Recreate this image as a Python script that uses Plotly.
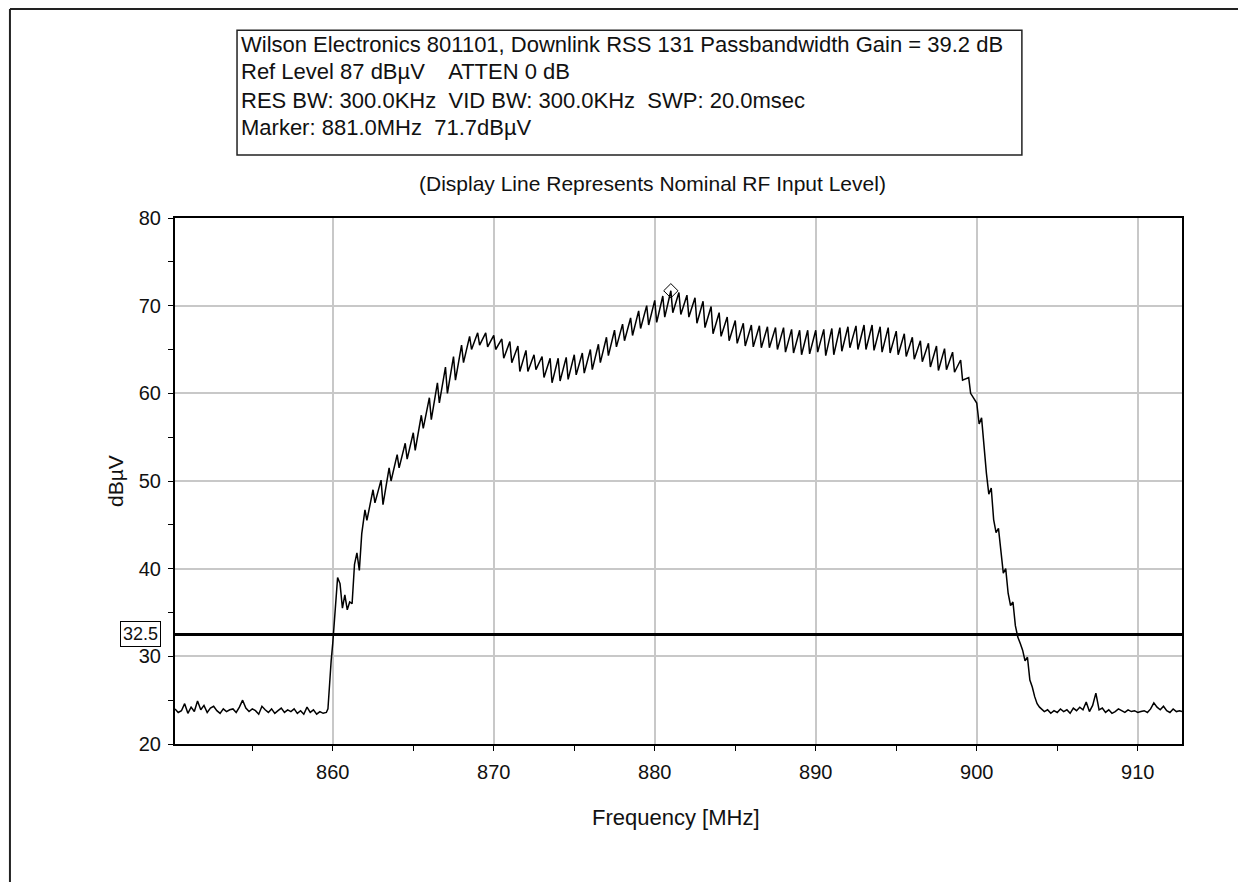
import plotly.graph_objects as go

# Spectrum analyser trace
# noise floor below the passband
floor_lo_freq = [850.2, 850.4, 850.6, 850.8, 851.0, 851.2, 851.4, 851.6, 851.8, 852.0,
                 852.2, 852.4, 852.6, 852.8, 853.0, 853.2, 853.4, 853.6, 853.8, 854.0,
                 854.2, 854.4, 854.6, 854.8, 855.0, 855.2, 855.4, 855.6, 855.8, 856.0,
                 856.2, 856.4, 856.6, 856.8, 857.0, 857.2, 857.4, 857.6, 857.8, 858.0,
                 858.2, 858.4, 858.6, 858.8, 859.0, 859.2, 859.4, 859.6]
floor_lo_level = [24.0, 23.6, 23.8, 24.6, 23.5, 24.2, 23.7, 24.9, 23.9, 24.4,
                  23.6, 24.1, 24.3, 23.8, 23.5, 24.0, 23.7, 23.9, 24.0, 23.6,
                  24.2, 25.0, 24.1, 23.7, 24.0, 23.8, 23.4, 24.3, 23.9, 23.6,
                  24.0, 23.5, 23.8, 24.1, 23.6, 23.9, 23.7, 24.0, 23.5, 23.8,
                  23.4, 24.2, 23.6, 23.9, 23.4, 23.7, 23.5, 23.6]

# lower band edge
rise_freq = [859.7, 859.8, 859.9, 860.0, 860.1, 860.2, 860.3, 860.45, 860.6, 860.75,
             860.9, 861.05, 861.2, 861.35, 861.5, 861.65, 861.8]
rise_level = [24.0, 27.5, 29.5, 31.5, 34.0, 37.0, 39.0, 38.3, 35.5, 37.0,
              35.3, 36.2, 36.0, 40.5, 41.8, 39.8, 44.0]

# passband with ripple (peak, dip) pairs
pass_freq = [862.0, 862.12, 862.5, 862.62, 863.0, 863.12, 863.5, 863.62,
             864.0, 864.12, 864.5, 864.62, 865.0, 865.12, 865.5, 865.62,
             866.0, 866.12, 866.5, 866.62, 867.0, 867.12, 867.5, 867.62,
             868.0, 868.12, 868.5, 868.62, 869.0, 869.12, 869.5, 869.62,
             870.0, 870.12, 870.5, 870.62, 871.0, 871.12, 871.5, 871.62,
             872.0, 872.12, 872.5, 872.62, 873.0, 873.12, 873.5, 873.62,
             874.0, 874.12, 874.5, 874.62, 875.0, 875.12, 875.5, 875.62,
             876.0, 876.12, 876.5, 876.62, 877.0, 877.12, 877.5, 877.62,
             878.0, 878.12, 878.5, 878.62, 879.0, 879.12, 879.5, 879.62,
             880.0, 880.12, 880.5, 880.62, 881.0, 881.12, 881.5, 881.62,
             882.0, 882.12, 882.5, 882.62, 883.0, 883.12, 883.5, 883.62,
             884.0, 884.12, 884.5, 884.62, 885.0, 885.12, 885.5, 885.62,
             886.0, 886.12, 886.5, 886.62, 887.0, 887.12, 887.5, 887.62,
             888.0, 888.12, 888.5, 888.62, 889.0, 889.12, 889.5, 889.62,
             890.0, 890.12, 890.5, 890.62, 891.0, 891.12, 891.5, 891.62,
             892.0, 892.12, 892.5, 892.62, 893.0, 893.12, 893.5, 893.62,
             894.0, 894.12, 894.5, 894.62, 895.0, 895.12, 895.5, 895.62,
             896.0, 896.12, 896.5, 896.62, 897.0, 897.12, 897.5, 897.62,
             898.0, 898.12, 898.5, 898.62, 899.0, 899.12, 899.5, 899.62]
pass_level = [46.7, 45.5, 49.0, 47.5, 50.1, 47.3, 51.5, 50.0,
              53.0, 51.5, 54.3, 52.5, 55.5, 53.5, 57.5, 56.0,
              59.5, 57.0, 61.2, 58.9, 63.0, 60.0, 64.2, 61.5,
              65.5, 63.5, 66.5, 65.0, 66.9, 65.5, 66.9, 65.3,
              66.6, 65.0, 66.2, 64.0, 65.9, 63.5, 65.4, 62.5,
              64.9, 62.5, 64.4, 62.7, 64.2, 61.8, 64.0, 61.2,
              64.0, 61.4, 64.1, 61.6, 64.4, 62.1, 64.6, 62.3,
              65.0, 62.7, 65.6, 63.5, 66.4, 64.3, 67.2, 65.3,
              67.9, 66.0, 68.6, 66.6, 69.4, 67.4, 70.0, 67.8,
              70.6, 68.1, 71.1, 68.7, 71.7, 69.2, 71.5, 69.0,
              71.2, 68.7, 70.9, 68.0, 70.5, 67.5, 69.9, 66.8,
              69.2, 66.5, 68.7, 66.0, 68.3, 65.7, 68.0, 65.4,
              67.8, 65.3, 67.7, 65.2, 67.6, 65.2, 67.5, 65.0,
              67.5, 64.7, 67.3, 64.6, 67.2, 64.4, 67.2, 64.5,
              67.2, 64.7, 67.3, 64.3, 67.4, 64.4, 67.5, 64.8,
              67.6, 65.2, 67.7, 65.0, 67.8, 65.0, 67.8, 64.9,
              67.6, 64.7, 67.5, 64.6, 67.1, 64.4, 66.8, 64.2,
              66.4, 63.9, 66.0, 63.6, 65.7, 63.0, 65.4, 62.6,
              65.1, 62.7, 64.7, 62.4, 63.8, 61.5, 61.8, 60.0]

# upper band edge
fall_freq = [900.0, 900.15, 900.3, 900.45, 900.6, 900.75, 900.9, 901.05, 901.2, 901.35,
             901.5, 901.65, 901.8, 901.95, 902.1, 902.25, 902.4, 902.55, 902.7, 902.85,
             903.0, 903.15, 903.3, 903.45, 903.6, 903.75, 903.9, 904.05]
fall_level = [58.9, 56.5, 57.2, 53.5, 50.9, 48.5, 49.2, 45.6, 44.1, 44.6,
              41.8, 39.5, 40.0, 37.2, 35.8, 36.2, 33.5, 32.2, 31.5, 30.7,
              29.5, 29.9, 27.3, 26.5, 25.4, 24.6, 24.2, 23.9]

# noise floor above the passband
floor_hi_freq = [904.2, 904.4, 904.6, 904.8, 905.0, 905.2, 905.4, 905.6, 905.8, 906.0,
                 906.2, 906.4, 906.6, 906.8, 907.0, 907.2, 907.4, 907.6, 907.8, 908.0,
                 908.2, 908.4, 908.6, 908.8, 909.0, 909.2, 909.4, 909.6, 909.8, 910.0,
                 910.2, 910.4, 910.6, 910.8, 911.0, 911.2, 911.4, 911.6, 911.8, 912.0,
                 912.2, 912.4, 912.6, 912.75]
floor_hi_level = [23.7, 23.9, 23.5, 23.8, 23.6, 24.0, 23.7, 23.9, 23.5, 24.1,
                  23.8, 24.2, 23.9, 24.8, 23.7, 24.4, 25.8, 23.9, 24.1, 23.6,
                  23.9, 23.5, 23.7, 24.0, 23.8, 23.6, 23.9, 23.7, 23.8, 23.6,
                  23.7, 23.8, 23.6, 24.0, 24.7, 24.2, 23.9, 24.3, 23.8, 23.6,
                  24.0, 23.7, 23.8, 23.7]

marker_freq = [881.0]
marker_level = [71.7]
display_line = 32.5

header_lines = [
    "Wilson Electronics 801101, Downlink RSS 131 Passbandwidth Gain = 39.2 dB",
    "Ref Level 87 dBµV    ATTEN 0 dB",
    "RES BW: 300.0KHz  VID BW: 300.0KHz  SWP: 20.0msec",
    "Marker: 881.0MHz  71.7dBµV",
]

freq = floor_lo_freq + rise_freq + pass_freq + fall_freq + floor_hi_freq
level = floor_lo_level + rise_level + pass_level + fall_level + floor_hi_level

FONT = "Liberation Sans, Arial, sans-serif"
TXT = '#111'

fig = go.Figure()
fig.add_trace(go.Scatter(x=freq, y=level, mode='lines',
                         line=dict(color='black', width=1.5), showlegend=False))
fig.add_trace(go.Scatter(x=marker_freq, y=marker_level, mode='markers',
                         marker=dict(symbol='diamond-open', size=11, color='black',
                                     line=dict(width=1)),
                         showlegend=False))

# display line (nominal RF input level)
fig.add_shape(type='line', xref='paper', x0=0, x1=1, y0=display_line, y1=display_line,
              line=dict(color='black', width=3))
fig.add_annotation(xref='paper', x=0, y=display_line, text=str(display_line),
                   showarrow=False, xanchor='right', yanchor='middle', xshift=-14,
                   font=dict(family=FONT, size=18, color=TXT),
                   bordercolor='black', borderwidth=1, borderpad=2, bgcolor='white')

# header box
fig.add_shape(type='rect', xref='paper', yref='paper', x0=0.0616, x1=0.841,
              y0=1.1198, y1=1.357, line=dict(color='#222', width=1.5))
for txt, yy in zip(header_lines, [1.329, 1.2776, 1.2243, 1.173]):
    fig.add_annotation(xref='paper', yref='paper', x=0.0636, y=yy, text=txt,
                       showarrow=False, xanchor='left', yanchor='middle',
                       font=dict(family=FONT, size=22, color=TXT))
fig.add_annotation(xref='paper', yref='paper', x=0.4737, y=1.0665,
                   text="(Display Line Represents Nominal RF Input Level)",
                   showarrow=False, xanchor='center', yanchor='middle',
                   font=dict(family=FONT, size=21, color=TXT))

# axis titles
fig.add_annotation(xref='paper', yref='paper', x=0.4975, y=-0.1388,
                   text="Frequency [MHz]", showarrow=False,
                   xanchor='center', yanchor='middle',
                   font=dict(family=FONT, size=22, color=TXT))
fig.add_annotation(xref='paper', yref='paper', x=-0.0596, y=0.5, text="dBµV",
                   textangle=-90, showarrow=False, xanchor='center', yanchor='middle',
                   font=dict(family=FONT, size=21, color=TXT))

# outer frame of the screenshot: only top and left edges are visible
fig.add_shape(type='line', xref='paper', yref='paper', x0=-0.1639, x1=1.1,
              y0=1.3973, y1=1.3973, line=dict(color='#222', width=2))
fig.add_shape(type='line', xref='paper', yref='paper', x0=-0.1639, x1=-0.1639,
              y0=-0.4, y1=1.3973, line=dict(color='#222', width=2))

fig.update_xaxes(range=[850.2, 912.75], tick0=860, dtick=10, showgrid=True,
                 gridcolor='#c8c8c8', gridwidth=1.5, zeroline=False,
                 showline=True, linecolor='black', linewidth=2, mirror=True,
                 ticks='outside', ticklen=5, tickcolor='black', ticklabelstandoff=4,
                 minor=dict(tick0=855, dtick=5, ticks='outside', ticklen=5,
                            tickcolor='black', showgrid=False),
                 tickfont=dict(family=FONT, size=20, color=TXT))
fig.update_yaxes(range=[20, 80], dtick=10, showgrid=True,
                 gridcolor='#c8c8c8', gridwidth=1.5, zeroline=False,
                 showline=True, linecolor='black', linewidth=2, mirror=True,
                 ticks='outside', ticklen=5, tickcolor='black', ticklabelstandoff=3,
                 minor=dict(dtick=5, ticks='outside', ticklen=5,
                            tickcolor='black', showgrid=False),
                 tickfont=dict(family=FONT, size=20, color=TXT))

# page body adds an 8px margin, so the figure is a little smaller than the window
fig.update_layout(width=1230, height=874,
                  margin=dict(l=167, r=56, t=210, b=138),
                  paper_bgcolor='white', plot_bgcolor='white')

fig.write_html("out.html")
